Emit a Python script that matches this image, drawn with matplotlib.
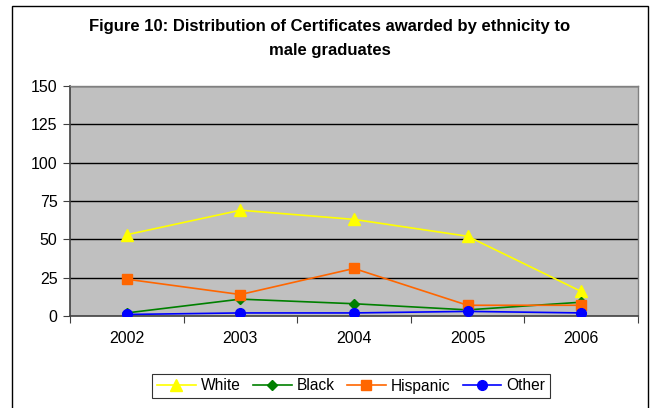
import matplotlib
matplotlib.use("Agg")
import matplotlib.pyplot as plt
from matplotlib.patches import Rectangle

years = ["2002", "2003", "2004", "2005", "2006"]
white = [53, 69, 63, 52, 16]
black = [2, 11, 8, 4, 9]
hispanic = [24, 14, 31, 7, 7]
other = [1, 2, 2, 3, 2]
yticks = [0, 25, 50, 75, 100, 125, 150]

plt.rcParams['font.family'] = ['Liberation Sans', 'DejaVu Sans']

W, H = 657, 408
fig = plt.figure(figsize=(W / 100, H / 100), dpi=100)
fig.patch.set_facecolor('white')

# outer border (bottom edge falls outside the image)
fig.patches.append(Rectangle((12 / W, -0.05), (648 - 12) / W, (H - 6) / H + 0.05,
                             transform=fig.transFigure, fill=False,
                             edgecolor='black', linewidth=1.0, clip_on=False))

ax = fig.add_axes([70 / W, 1 - 316 / H, (638 - 70) / W, (316 - 86) / H])
ax.set_facecolor('#C0C0C0')
x = list(range(len(years)))

ax.plot(x, white, color='#FFFF00', marker='^', markersize=8, linewidth=1.2, label='White', zorder=3)
ax.plot(x, black, color='#008000', marker='D', markersize=5.5, linewidth=1.2, label='Black', zorder=3)
ax.plot(x, hispanic, color='#FF6600', marker='s', markersize=6.5, linewidth=1.2, label='Hispanic', zorder=3)
ax.plot(x, other, color='#0000FF', marker='o', markersize=7, linewidth=1.2, label='Other', zorder=3)

ax.set_xlim(-0.5, len(years) - 0.5)
ax.set_ylim(0, 150)
ax.set_yticks(yticks)
ax.set_yticklabels([str(v) for v in yticks], fontsize=11.5)
ax.set_xticks([i - 0.5 for i in range(len(years) + 1)])
ax.set_xticklabels([])
ax.set_xticks(x, minor=True)
ax.set_xticklabels(years, minor=True, fontsize=11.5)
ax.tick_params(axis='x', which='minor', length=0, pad=11)
ax.tick_params(axis='x', which='major', length=5, direction='out', color='#404040')
ax.tick_params(axis='y', length=5, direction='out', color='#404040', pad=4)

for v in yticks[1:]:
    ax.axhline(v, color='black', linewidth=1.0, zorder=1)

for s in ['top', 'right']:
    ax.spines[s].set_color('#808080')
    ax.spines[s].set_linewidth(1.0)
for s in ['left', 'bottom']:
    ax.spines[s].set_color('#404040')
    ax.spines[s].set_linewidth(1.2)

fig.text(330 / W, 1 - 27 / H, 'Figure 10: Distribution of Certificates awarded by ethnicity to',
         ha='center', va='center', fontsize=12, fontweight='bold')
fig.text(330 / W, 1 - 50 / H, 'male graduates',
         ha='center', va='center', fontsize=12, fontweight='bold')

leg = fig.legend(loc='center', bbox_to_anchor=(351 / W, 1 - 386 / H), ncol=4,
                 fontsize=11.2, frameon=True, fancybox=False, edgecolor='black',
                 handlelength=2.5, handletextpad=0.3, columnspacing=0.8,
                 borderpad=0.3, borderaxespad=0)
leg.get_frame().set_linewidth(0.8)

fig.savefig('out.png', dpi=100, facecolor='white')
